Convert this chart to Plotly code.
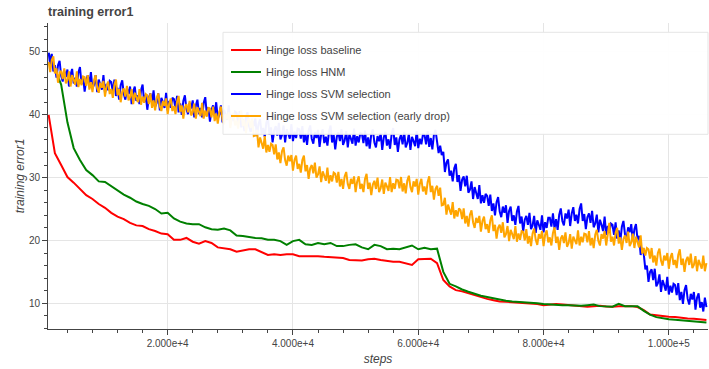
import plotly.graph_objects as go

# ---------------- data ----------------
steps_coarse = list(range(1000, 106001, 1000))   # baseline / HNM logging steps
steps_fine = list(range(1000, 106001, 250))      # SVM selection logging steps

baseline = [
    40.0, 33.9, 32.0, 30.1, 29.2, 28.2, 27.2, 26.6, 25.8, 25.2,
    24.4, 23.8, 23.4, 22.8, 22.4, 22.3, 21.8, 21.5, 21.1, 21.0,
    20.1, 20.1, 20.4, 19.8, 19.5, 19.9, 19.6, 18.9, 18.8, 18.6,
    18.2, 18.4, 18.6, 18.6, 18.1, 17.7, 17.8, 17.7, 17.8, 17.8,
    17.5, 17.5, 17.6, 17.5, 17.4, 17.3, 17.3, 17.2, 16.9, 16.8,
    16.8, 17.0, 17.1, 16.9, 16.7, 16.6, 16.6, 16.4, 16.1, 17.0,
    17.1, 17.1, 16.4, 13.7, 12.7, 12.1, 11.9, 11.6, 11.2, 11.0,
    10.7, 10.5, 10.3, 10.25, 10.2, 10.1, 10.05, 10.0, 9.9, 9.7,
    9.8, 9.9, 9.8, 9.7, 9.65, 9.5, 9.45, 9.55, 9.6, 9.5,
    9.45, 9.55, 9.55, 9.55, 9.4, 8.9, 8.2, 8.05, 7.95, 7.87,
    7.8, 7.65, 7.6, 7.55, 7.45, 7.35,
]

hnm = [
    49.8, 47.3, 44.8, 38.8, 34.7, 32.8, 31.2, 30.4, 29.4, 29.3,
    28.6, 27.9, 27.3, 26.8, 26.2, 25.8, 25.5, 25.0, 24.3, 24.4,
    23.5, 23.0, 22.7, 22.6, 22.6, 22.1, 21.8, 21.7, 21.9, 21.6,
    20.8, 20.7, 20.5, 20.4, 20.35, 20.1, 20.1, 19.9, 19.3, 19.9,
    20.1, 19.4, 19.3, 19.6, 19.4, 19.6, 19.1, 19.1, 19.3, 19.4,
    18.9, 18.6, 19.3, 19.1, 18.6, 18.7, 18.6, 18.9, 19.2, 18.6,
    18.85, 18.6, 18.7, 15.0, 13.1, 12.7, 12.2, 11.85, 11.5, 11.2,
    11.0, 10.8, 10.5, 10.4, 10.3, 10.25, 10.2, 10.1, 10.0, 9.9,
    9.8, 9.7, 9.7, 9.7, 9.65, 9.6, 9.7, 9.8, 9.55, 9.5,
    9.45, 9.9, 9.55, 9.55, 9.55, 8.8, 8.2, 7.8, 7.6, 7.45,
    7.4, 7.3, 7.2, 7.15, 7.05, 6.95,
]

svm_selection = [
    49.9, 48.0, 49.7, 46.9, 47.9, 45.9, 47.9, 48.6, 46.2, 45.3,
    47.0, 46.0, 47.2, 44.5, 46.4, 47.3, 45.0, 45.9, 44.5, 46.7,
    47.6, 44.9, 46.0, 43.7, 45.6, 46.3, 44.8, 46.8, 44.2, 44.8,
    46.3, 43.6, 45.6, 44.8, 44.0, 46.3, 43.5, 44.9, 43.9, 45.4,
    45.2, 43.6, 45.6, 43.0, 44.3, 42.4, 44.7, 45.5, 43.3, 42.4,
    44.2, 43.3, 44.5, 41.7, 43.7, 44.5, 42.2, 43.1, 41.7, 43.9,
    44.8, 42.0, 43.2, 40.8, 42.7, 43.4, 41.9, 43.9, 41.3, 41.9,
    43.4, 40.7, 42.7, 42.0, 41.1, 43.5, 40.7, 42.2, 41.1, 42.7,
    42.5, 41.0, 43.0, 40.4, 41.8, 40.0, 42.2, 43.1, 40.9, 40.1,
    41.9, 41.0, 42.3, 39.6, 41.5, 42.4, 40.1, 41.1, 39.6, 41.9,
    42.8, 40.1, 41.2, 38.9, 40.8, 41.5, 40.0, 42.0, 39.4, 40.0,
    41.5, 38.8, 40.8, 40.0, 39.2, 41.5, 38.7, 40.1, 39.0, 40.5,
    40.3, 38.7, 40.6, 38.0, 39.3, 37.4, 39.6, 40.4, 38.2, 37.3,
    39.1, 38.2, 39.4, 36.6, 38.5, 39.3, 37.0, 37.9, 36.5, 38.7,
    39.6, 36.8, 38.0, 35.6, 37.5, 38.2, 36.7, 38.7, 36.1, 36.8,
    38.3, 35.6, 37.7, 37.0, 36.2, 38.5, 35.8, 37.3, 36.3, 37.8,
    37.7, 36.2, 38.2, 35.6, 37.0, 35.2, 37.5, 38.3, 36.2, 35.4,
    37.2, 36.3, 37.6, 34.9, 36.9, 37.7, 35.5, 36.5, 35.1, 37.3,
    38.3, 35.6, 36.8, 34.5, 36.5, 37.2, 35.8, 37.7, 35.2, 35.9,
    37.4, 34.8, 36.9, 36.2, 35.4, 37.8, 35.1, 36.6, 35.6, 37.1,
    37.0, 35.5, 37.5, 35.0, 36.4, 34.6, 36.9, 37.7, 35.6, 34.8,
    36.6, 35.8, 37.1, 34.4, 36.4, 37.3, 35.1, 36.1, 34.6, 36.9,
    37.9, 35.2, 36.4, 34.1, 36.1, 36.8, 35.3, 37.3, 34.8, 35.5,
    37.0, 34.4, 36.5, 35.8, 35.0, 37.4, 34.7, 36.2, 35.3, 36.9,
    36.8, 35.3, 37.4, 34.9, 36.3, 34.5, 36.8, 37.6, 35.2, 33.9,
    35.1, 33.6, 34.1, 30.9, 32.4, 32.9, 30.3, 31.1, 29.4, 31.5,
    32.2, 29.3, 30.4, 27.9, 29.7, 30.2, 28.6, 30.3, 27.6, 28.1,
    29.4, 26.6, 28.5, 27.6, 26.6, 28.8, 25.9, 27.2, 26.0, 27.4,
    27.1, 25.5, 27.3, 24.7, 25.9, 24.0, 26.1, 26.9, 24.6, 23.7,
    25.4, 24.4, 25.6, 22.8, 24.7, 25.4, 23.1, 24.0, 22.5, 24.6,
    25.5, 22.7, 23.8, 21.4, 23.3, 23.9, 22.5, 24.4, 21.8, 22.4,
    23.9, 21.2, 23.2, 22.5, 21.7, 24.0, 21.3, 22.9, 22.0, 23.6,
    23.6, 22.2, 24.3, 21.9, 23.4, 21.7, 24.1, 25.1, 23.1, 22.4,
    24.3, 23.5, 24.9, 22.3, 24.3, 25.3, 23.1, 24.1, 22.7, 25.0,
    25.9, 23.1, 24.2, 21.8, 23.7, 24.3, 22.8, 24.7, 22.1, 22.7,
    24.1, 21.3, 23.3, 22.5, 21.5, 23.8, 20.9, 22.3, 21.2, 22.7,
    22.5, 20.9, 22.9, 20.3, 21.6, 19.8, 22.2, 23.1, 21.0, 20.2,
    22.1, 21.3, 22.6, 19.9, 21.8, 22.6, 20.2, 20.7, 17.7, 18.8,
    17.8, 15.4, 16.0, 13.4, 15.0, 15.4, 13.7, 15.5, 12.7, 13.2,
    14.6, 11.8, 13.7, 12.9, 12.0, 14.2, 11.4, 12.8, 11.7, 13.1,
    12.9, 11.3, 13.2, 10.5, 11.8, 9.9, 12.1, 12.9, 10.7, 9.8,
    11.5, 10.6, 11.8, 9.0, 10.9, 11.6, 9.3, 10.2, 8.7, 10.9,
    9.4,
]

svm_selection_early_drop = [
    48.4, 46.8, 48.7, 49.3, 46.6, 47.4, 45.1, 46.7, 47.0, 45.7,
    47.4, 45.0, 45.5, 46.9, 44.5, 46.3, 45.6, 44.8, 46.9, 44.4,
    45.7, 44.7, 46.1, 46.0, 44.6, 46.3, 44.0, 45.2, 43.6, 45.5,
    46.3, 44.3, 43.5, 45.1, 44.3, 45.4, 42.9, 44.6, 45.3, 43.3,
    44.1, 42.7, 44.8, 45.6, 43.1, 44.1, 42.0, 43.7, 44.2, 42.9,
    44.6, 42.3, 42.8, 44.1, 41.7, 43.5, 42.8, 42.0, 44.1, 41.6,
    42.9, 41.9, 43.3, 43.1, 41.7, 43.4, 41.1, 42.3, 40.7, 42.6,
    43.4, 41.4, 40.6, 42.2, 41.4, 42.6, 40.1, 41.8, 42.6, 40.6,
    41.4, 40.1, 42.1, 43.0, 40.5, 41.5, 39.4, 41.2, 41.7, 40.4,
    42.2, 39.9, 40.4, 41.8, 39.4, 41.2, 40.5, 39.8, 41.9, 39.4,
    40.7, 39.7, 41.1, 41.0, 39.6, 41.3, 39.0, 40.2, 38.6, 40.5,
    41.3, 39.3, 38.5, 40.1, 39.3, 40.4, 37.9, 39.6, 40.3, 38.3,
    39.1, 37.8, 39.8, 40.7, 38.2, 39.2, 37.1, 38.9, 39.4, 37.9,
    39.4, 36.6, 36.7, 37.6, 34.8, 36.4, 35.5, 34.6, 36.6, 34.0,
    35.2, 34.1, 35.4, 35.2, 33.7, 35.3, 32.9, 34.0, 32.3, 34.2,
    34.8, 32.8, 31.9, 33.5, 32.6, 33.6, 31.1, 32.8, 33.5, 31.4,
    32.2, 30.8, 32.8, 33.5, 31.0, 32.0, 29.8, 31.5, 32.0, 30.7,
    32.4, 30.0, 30.5, 31.8, 29.3, 31.0, 30.3, 29.5, 31.6, 29.1,
    30.4, 29.4, 30.8, 30.6, 29.2, 30.9, 28.6, 29.8, 28.2, 30.2,
    30.9, 29.0, 28.2, 29.8, 29.0, 30.2, 27.7, 29.4, 30.2, 28.2,
    29.0, 27.7, 29.8, 30.6, 28.2, 29.2, 27.2, 28.9, 29.5, 28.2,
    30.0, 27.7, 28.3, 29.7, 27.4, 29.2, 28.6, 27.9, 30.1, 27.7,
    29.1, 28.2, 29.7, 29.6, 28.3, 30.1, 27.8, 29.1, 27.5, 29.5,
    30.3, 28.5, 27.7, 29.4, 28.6, 29.8, 27.3, 29.0, 29.8, 27.8,
    28.6, 27.3, 29.3, 30.2, 27.7, 28.7, 26.5, 28.2, 28.7, 27.1,
    28.4, 25.6, 25.7, 26.8, 24.1, 25.7, 24.9, 24.1, 26.1, 23.5,
    24.8, 23.8, 25.1, 24.8, 23.4, 25.1, 22.7, 23.9, 22.2, 24.1,
    24.8, 22.9, 22.0, 23.6, 22.8, 23.9, 21.4, 23.1, 23.8, 21.8,
    22.6, 21.2, 23.2, 24.0, 21.5, 22.5, 20.3, 22.0, 22.5, 21.2,
    22.9, 20.5, 21.0, 22.3, 19.9, 21.7, 21.0, 20.2, 22.3, 19.8,
    21.1, 20.1, 21.5, 21.4, 20.0, 21.8, 19.5, 20.7, 19.1, 21.1,
    21.9, 20.1, 19.3, 21.0, 20.3, 21.5, 19.1, 20.9, 21.6, 19.7,
    20.5, 19.2, 21.2, 22.1, 19.6, 20.6, 18.5, 20.3, 20.8, 19.6,
    21.3, 19.0, 19.6, 21.0, 18.7, 20.6, 20.0, 19.4, 21.6, 19.2,
    20.6, 19.7, 21.1, 21.0, 19.7, 21.5, 19.2, 20.4, 18.8, 20.9,
    21.7, 19.9, 19.2, 21.0, 20.3, 21.5, 19.2, 21.0, 22.8, 19.8,
    20.6, 19.2, 21.2, 22.0, 19.5, 20.5, 18.5, 20.2, 20.8, 19.6,
    21.4, 19.1, 19.7, 21.1, 18.8, 20.6, 19.9, 18.9, 20.8, 17.9,
    18.8, 17.6, 18.8, 18.6, 17.1, 18.8, 16.5, 17.6, 16.0, 18.0,
    18.7, 16.8, 16.0, 17.6, 16.8, 18.0, 15.5, 17.3, 18.0, 16.1,
    16.9, 15.6, 17.7, 18.6, 16.1, 17.1, 15.0, 16.8, 17.4, 16.1,
    17.9, 15.6, 16.1, 17.5, 15.1, 16.9, 16.2, 15.5, 17.6, 15.1,
    16.4,
]

series_names = [
    "Hinge loss baseline",
    "Hinge loss HNM",
    "Hinge loss SVM selection",
    "Hinge loss SVM selection (early drop)",
]
series_colors = ["red", "green", "blue", "orange"]

# ---------------- figure ----------------
FONT = "Liberation Sans, Arial, Helvetica, sans-serif"
TXT = "#444444"

fig = go.Figure()
traces = [
    (steps_coarse, baseline),
    (steps_coarse, hnm),
    (steps_fine, svm_selection),
    (steps_fine, svm_selection_early_drop),
]
for i, ((xs, ys), name, col) in enumerate(zip(traces, series_names, series_colors)):
    fig.add_trace(go.Scatter(
        x=xs, y=ys, mode="lines", name=name, legendgroup=f"g{i}",
        line=dict(color=col, width=2),
    ))

W, H = 709, 369
ML, MR, MT, MB = 48, 1, 23, 40
pw = W - ML - MR
ph = H - MT - MB

def px_x(p):
    return (p - ML) / pw

def px_y(p):
    return (H - MB - p) / ph

# legend background box (wide, as in the reference)
fig.add_shape(
    type="rect", xref="paper", yref="paper",
    x0=px_x(223), x1=1.0, y0=px_y(134.3), y1=px_y(32.3),
    fillcolor="rgba(255,255,255,0.95)",
    line=dict(color="#e5e5e5", width=1), layer="above",
)

axis_common = dict(
    showline=True, linecolor=TXT, linewidth=1,
    ticks="outside", ticklen=5, tickcolor=TXT, tickwidth=1,
    showgrid=True, gridcolor="#e5e5e5", gridwidth=1,
    zeroline=False,
    tickfont=dict(family=FONT, size=10, color=TXT),
    mirror=False,
)

fig.update_layout(
    width=W, height=H,
    margin=dict(l=ML, r=MR, t=MT, b=MB, autoexpand=False),
    paper_bgcolor="white", plot_bgcolor="white",
    font=dict(family=FONT, color=TXT),
    title=dict(
        text="<b>training error1</b>",
        font=dict(family=FONT, size=12.5, color=TXT),
        x=0, xref="paper", xanchor="left",
        y=1 - 12 / H, yref="container", yanchor="middle",
    ),
    xaxis=dict(
        axis_common,
        range=[900, 106250],
        tick0=0, dtick=20000, tickformat=".3e",
        minor=dict(ticks="outside", ticklen=3, dtick=4000, tickcolor=TXT, showgrid=False),
        title=dict(text="<i>steps</i>", font=dict(family=FONT, size=12, color=TXT), standoff=6),
    ),
    yaxis=dict(
        axis_common,
        range=[5.91, 54.61],
        tick0=0, dtick=10,
        minor=dict(ticks="outside", ticklen=3, dtick=2, tickcolor=TXT, showgrid=False),
        title=dict(text="<i>training error1</i>", font=dict(family=FONT, size=12, color=TXT), standoff=1),
    ),
    legend=dict(
        x=px_x(226), y=px_y(35.5), xanchor="left", yanchor="top",
        bgcolor="rgba(0,0,0,0)", borderwidth=0,
        font=dict(family=FONT, size=11, color=TXT),
        traceorder="grouped", tracegroupgap=3,
    ),
    showlegend=True,
)

fig.write_html(
    "out.html",
    config={"displayModeBar": False},
    post_script="document.body.style.margin='0px';document.body.style.overflow='hidden';",
)
